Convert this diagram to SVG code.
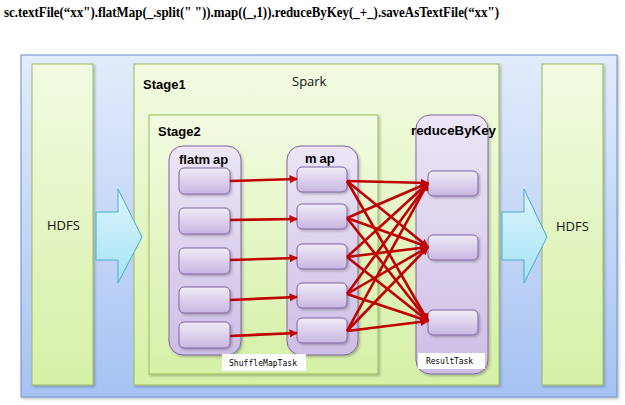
<svg xmlns="http://www.w3.org/2000/svg" width="625" height="405" viewBox="0 0 625 405">
  <defs>
    <linearGradient id="gBlue" x1="0" y1="0" x2="0" y2="1">
      <stop offset="0" stop-color="#E3ECFB"/>
      <stop offset="1" stop-color="#A6C2F3"/>
    </linearGradient>
    <linearGradient id="gGreen" x1="0" y1="0" x2="0" y2="1">
      <stop offset="0" stop-color="#F2FBE2"/>
      <stop offset="1" stop-color="#D6F0A6"/>
    </linearGradient>
    <linearGradient id="gPurple" x1="0" y1="0" x2="0" y2="1">
      <stop offset="0" stop-color="#ECE6F6"/>
      <stop offset="1" stop-color="#CDBEE5"/>
    </linearGradient>
    <linearGradient id="gCell" x1="0" y1="0" x2="0" y2="1">
      <stop offset="0" stop-color="#F0EBF8"/>
      <stop offset="1" stop-color="#C8B7E1"/>
    </linearGradient>
    <linearGradient id="gCyan" x1="0" y1="0" x2="0" y2="1">
      <stop offset="0" stop-color="#DDF6FD"/>
      <stop offset="1" stop-color="#A5E2F5"/>
    </linearGradient>
    <filter id="shadow" x="-20%" y="-20%" width="140%" height="140%">
      <feDropShadow dx="1.5" dy="1.5" stdDeviation="1" flood-color="#000" flood-opacity="0.25"/>
    </filter>
    <marker id="head" viewBox="0 0 10 10" refX="9" refY="5" markerWidth="3.2" markerHeight="3.2" orient="auto" markerUnits="strokeWidth">
      <path d="M0,0 L10,5 L0,10 z" fill="#C00000"/>
    </marker>
  </defs>
  <style>
    .green { fill: url(#gGreen); stroke: #9BBB59; stroke-width: 1; }
    .cont { fill: url(#gPurple); stroke: #8064A2; stroke-width: 1; }
    .cell { fill: url(#gCell); stroke: #8064A2; stroke-width: 1; filter: url(#shadow); }
    .bigarrow { fill: url(#gCyan); stroke: #4BACC6; stroke-width: 1; }
    .title { font-family: "Liberation Sans", "DejaVu Sans", sans-serif; font-weight: bold; font-size: 13px; fill: #000; }
    .plain { font-family: "Open Sans", "Liberation Sans", sans-serif; font-size: 13px; fill: #111; }
    .tag { font-family: "DejaVu Sans Mono", "Liberation Mono", monospace; font-size: 8px; fill: #000; }
    .link { stroke: #C00000; stroke-width: 2.6; fill: none; marker-end: url(#head); }
  </style>

  <rect width="625" height="405" fill="#FFFFFF"/>

  <!-- program line -->
  <text x="4" y="17" font-family="Liberation Serif, 'DejaVu Serif', serif" font-size="14" font-weight="bold" textLength="495" lengthAdjust="spacingAndGlyphs">sc.textFile(“xx").flatMap(_.split(" ")).map((_,1)).reduceByKey(_+_).saveAsTextFile(“xx")</text>

  <!-- cluster background -->
  <g id="cluster">
    <rect x="21" y="55" width="596" height="342" fill="url(#gBlue)" stroke="#6A8FC8" stroke-width="1" filter="url(#shadow)"/>
  </g>

  <g id="hdfs-in">
    <rect class="green" x="32" y="64" width="61" height="321" filter="url(#shadow)"/>
    <text class="plain" x="47" y="230">HDFS</text>
  </g>

  <g id="hdfs-out">
    <rect class="green" x="542" y="64" width="61" height="321" filter="url(#shadow)"/>
    <text class="plain" x="556" y="231">HDFS</text>
  </g>

  <g id="stage1">
    <rect class="green" x="134" y="64" width="365" height="321" filter="url(#shadow)"/>
    <text class="title" x="143" y="89">Stage1</text>
    <text class="plain" x="292" y="86">Spark</text>
  </g>

  <g id="stage2">
    <rect class="green" x="149" y="115" width="229" height="259" filter="url(#shadow)"/>
    <text class="title" x="158" y="136">Stage2</text>
  </g>

  <g id="arrow-in">
    <path class="bigarrow" d="M96,212 H118 V189 L142,237 L118,283 V260 H96 Z"/>
  </g>
  <g id="arrow-out">
    <path class="bigarrow" d="M502,212 H524 V189 L547,237 L524,283 V260 H502 Z"/>
  </g>

  <g id="flatmap">
    <rect class="cont" x="169" y="146" width="72" height="209" rx="14" filter="url(#shadow)"/>
    <text class="title" x="179" y="164"><tspan>flatm</tspan><tspan dx="3">ap</tspan></text>
    <rect class="cell" x="179" y="168" width="51" height="26" rx="5"/>
    <rect class="cell" x="179" y="208" width="51" height="26" rx="5"/>
    <rect class="cell" x="179" y="248" width="51" height="26" rx="5"/>
    <rect class="cell" x="179" y="287" width="51" height="26" rx="5"/>
    <rect class="cell" x="179" y="322" width="51" height="26" rx="5"/>
  </g>

  <g id="map">
    <rect class="cont" x="287" y="146" width="71" height="209" rx="14" filter="url(#shadow)"/>
    <text class="title" x="305" y="163"><tspan>m</tspan><tspan dx="3">ap</tspan></text>
    <rect class="cell" x="297" y="167" width="50" height="25" rx="5"/>
    <rect class="cell" x="297" y="204" width="50" height="25" rx="5"/>
    <rect class="cell" x="297" y="244" width="50" height="25" rx="5"/>
    <rect class="cell" x="297" y="283" width="50" height="25" rx="5"/>
    <rect class="cell" x="297" y="318" width="50" height="25" rx="5"/>
  </g>

  <g id="reduceByKey">
    <rect class="cont" x="416" y="115" width="72" height="259" rx="14" filter="url(#shadow)"/>
    <text class="title" x="411" y="135" font-size="14" textLength="85" lengthAdjust="spacingAndGlyphs">reduceByKey</text>
    <rect class="cell" x="428" y="171" width="50" height="25" rx="5"/>
    <rect class="cell" x="428" y="235" width="50" height="25" rx="5"/>
    <rect class="cell" x="428" y="310" width="50" height="25" rx="5"/>
  </g>

  <g id="shuffle-tag">
    <rect x="222" y="354" width="84" height="17" fill="#FFFFFF"/>
    <text class="tag" x="229" y="366" textLength="68">ShuffleMapTask</text>
  </g>
  <g id="result-tag">
    <rect x="418" y="353" width="67" height="16" fill="#FFFFFF"/>
    <text class="tag" x="426" y="364" textLength="47">ResultTask</text>
  </g>

  <g id="connectors">
    <!-- flatmap to map -->
    <line class="link" x1="230" y1="181" x2="297" y2="179"/>
    <line class="link" x1="230" y1="220" x2="297" y2="219"/>
    <line class="link" x1="230" y1="260" x2="297" y2="258"/>
    <line class="link" x1="230" y1="300" x2="297" y2="297"/>
    <line class="link" x1="230" y1="336" x2="297" y2="333"/>
    <!-- shuffle: every map output to every reducer -->
    <line class="link" x1="347" y1="181" x2="428" y2="183"/>
    <line class="link" x1="347" y1="181" x2="428" y2="247"/>
    <line class="link" x1="347" y1="181" x2="428" y2="321"/>
    <line class="link" x1="347" y1="218" x2="428" y2="183"/>
    <line class="link" x1="347" y1="218" x2="428" y2="247"/>
    <line class="link" x1="347" y1="218" x2="428" y2="321"/>
    <line class="link" x1="347" y1="257" x2="428" y2="183"/>
    <line class="link" x1="347" y1="257" x2="428" y2="247"/>
    <line class="link" x1="347" y1="257" x2="428" y2="321"/>
    <line class="link" x1="347" y1="294" x2="428" y2="183"/>
    <line class="link" x1="347" y1="294" x2="428" y2="247"/>
    <line class="link" x1="347" y1="294" x2="428" y2="321"/>
    <line class="link" x1="347" y1="331" x2="428" y2="183"/>
    <line class="link" x1="347" y1="331" x2="428" y2="247"/>
    <line class="link" x1="347" y1="331" x2="428" y2="321"/>
  </g>
</svg>
